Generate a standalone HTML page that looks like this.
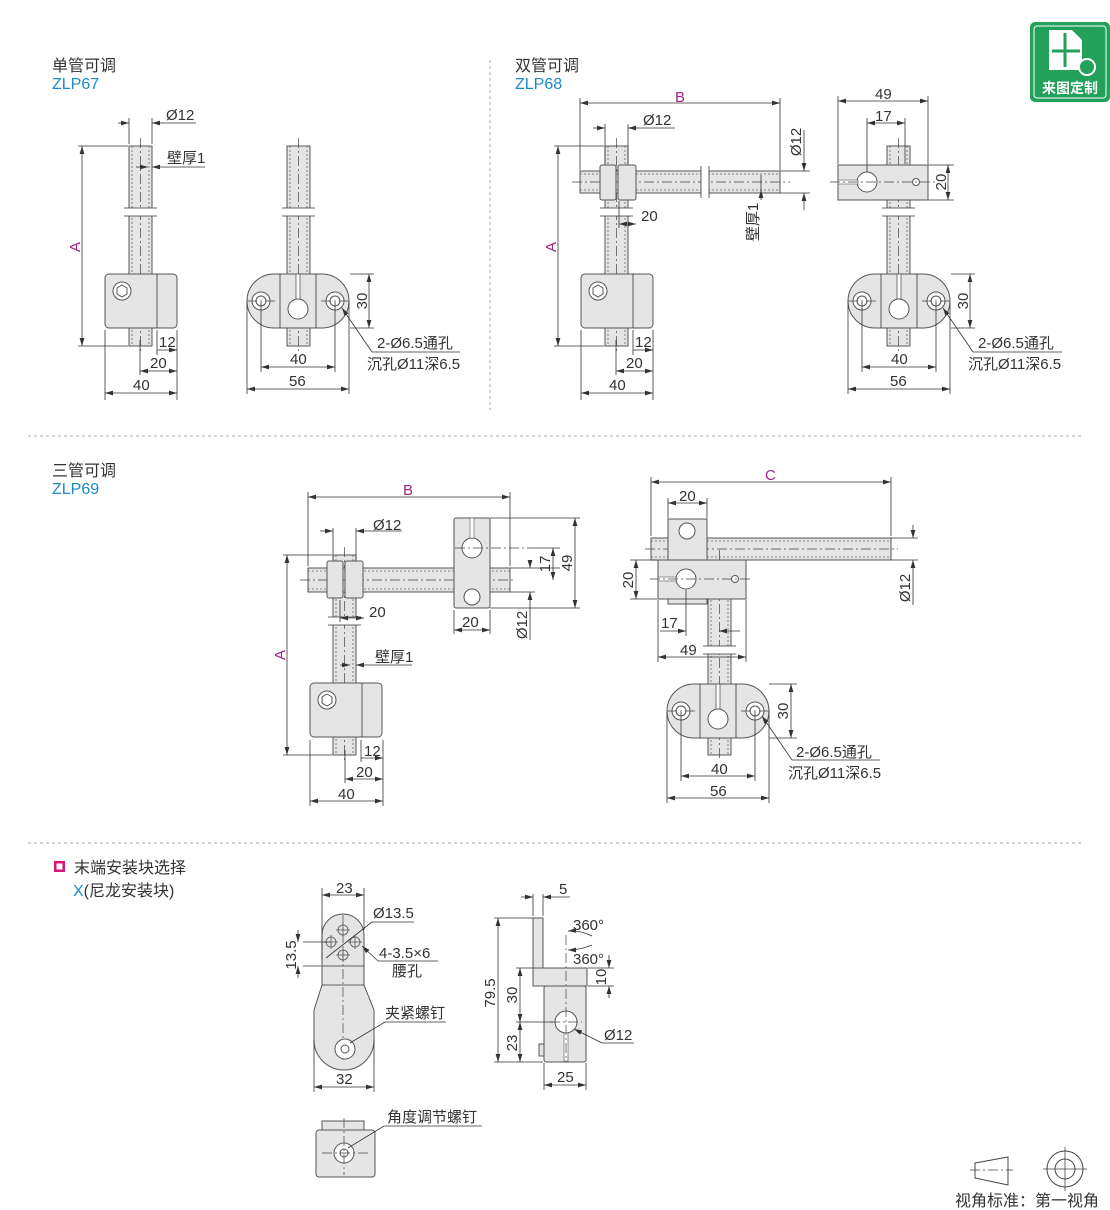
<!DOCTYPE html>
<html><head><meta charset="utf-8"><style>
html,body{margin:0;padding:0;background:#fff}
svg{display:block}
text{font-family:"Liberation Sans","Noto Sans CJK SC",sans-serif;font-size:15px;fill:#333}
.hd{font-size:16px}
.p{fill:#e5e5e5;stroke:#555;stroke-width:1}
.w{fill:#fff;stroke:#555;stroke-width:1}
.d{stroke:#333;stroke-width:.8;fill:none}
.a{stroke:#333;stroke-width:.8;fill:none;marker-start:url(#m);marker-end:url(#m)}
.c{stroke:#444;stroke-width:.7;stroke-dasharray:10 3 2 3;fill:none}
.h{stroke:#666;stroke-width:.8;stroke-dasharray:2 2;fill:none}
.s{stroke:#aaa;stroke-width:1;stroke-dasharray:3 3;fill:none}
.pk{fill:#a3237f}
.bl{fill:#1b8ac8}
</style></head><body>
<svg width="1110" height="1210" viewBox="0 0 1110 1210" xmlns="http://www.w3.org/2000/svg">
<defs>
<marker id="m" viewBox="0 0 10 6" refX="10" refY="3" markerWidth="8" markerHeight="5" orient="auto-start-reverse" markerUnits="userSpaceOnUse"><path d="M0,0L10,3L0,6z" fill="#333"/></marker>
<g id="vtube">
<rect class="p" x="0" y="0" width="23" height="200"/>
<line class="h" x1="3" y1="0" x2="3" y2="200"/><line class="h" x1="20" y1="0" x2="20" y2="200"/>
<line class="c" x1="11.5" y1="-8" x2="11.5" y2="208"/>
<rect x="-2" y="62" width="27" height="8" fill="#fff"/>
<line class="d" x1="-5" y1="62" x2="28" y2="62"/><line class="d" x1="-5" y1="70" x2="28" y2="70"/>
</g>
<g id="sideblk">
<rect class="p" x="0" y="0" width="72" height="54" rx="4"/>
<line class="d" x1="52" y1="0" x2="52" y2="54"/>
<circle class="w" cx="17" cy="17" r="9"/><polygon points="17,11 22,14 22,20 17,23 12,20 12,14" fill="none" stroke="#555"/>
</g>
<g id="oval">
<path class="p" d="M27,0H75A27,27 0 0 1 75,54H27A27,27 0 0 1 27,0z"/>
<line class="d" x1="33" y1="0" x2="33" y2="54"/><line class="d" x1="69" y1="0" x2="69" y2="54"/>
<circle class="w" cx="14" cy="27" r="9"/><circle class="w" cx="14" cy="27" r="5"/>
<circle class="w" cx="88" cy="27" r="9"/><circle class="w" cx="88" cy="27" r="5"/>
<line class="c" x1="0" y1="27" x2="28" y2="27"/><line class="c" x1="74" y1="27" x2="102" y2="27"/>
<circle class="w" cx="51" cy="35" r="10"/>
<rect x="49" y="0" width="4" height="25" fill="#fff" stroke="#555" stroke-width=".8"/>
</g>
</defs>

<!-- logo -->
<rect x="1030" y="22" width="80" height="80" rx="5" fill="#23a05a"/>
<rect x="1034" y="26" width="72" height="72" rx="3" fill="none" stroke="#fff" stroke-width="1"/>
<path d="M1049,30H1072L1082,40V70H1049z" fill="#fff"/>
<path d="M1065,33V67M1052,51H1080" stroke="#23a05a" stroke-width="3"/>
<circle cx="1087" cy="67" r="8" fill="#23a05a" stroke="#fff" stroke-width="2"/>
<text x="1070" y="93" text-anchor="middle" style="font-size:14px;font-weight:bold;fill:#fff">来图定制</text>

<!-- section headers -->
<text x="52" y="71" class="hd">单管可调</text><text x="52" y="89" class="bl hd">ZLP67</text>
<text x="515" y="71" class="hd">双管可调</text><text x="515" y="89" class="bl hd">ZLP68</text>
<text x="52" y="476" class="hd">三管可调</text><text x="52" y="494" class="bl hd">ZLP69</text>
<rect x="54" y="861" width="11" height="11" fill="#d6167a"/><rect x="56.5" y="863.5" width="6" height="6" fill="#fff"/>
<text x="74" y="873" class="hd">末端安装块选择</text>
<text x="73" y="896" class="hd"><tspan class="bl">X</tspan>(尼龙安装块)</text>

<line class="s" x1="490" y1="60" x2="490" y2="410"/>
<line class="s" x1="28" y1="436" x2="1082" y2="436"/>
<line class="s" x1="28" y1="843" x2="1082" y2="843"/>

<!-- ZLP67 left -->
<use href="#vtube" x="129" y="146"/>
<use href="#sideblk" x="105" y="274"/>
<line class="d" x1="129" y1="118" x2="129" y2="144"/><line class="d" x1="152" y1="118" x2="152" y2="144"/>
<line class="d" x1="118" y1="123" x2="129" y2="123" marker-end="url(#m)"/><line class="d" x1="196" y1="123" x2="152" y2="123" marker-end="url(#m)"/>
<text x="166" y="120">Ø12</text>
<line class="d" x1="136" y1="167" x2="148" y2="167" marker-end="url(#m)"/><line class="d" x1="205" y1="167" x2="152" y2="167" marker-end="url(#m)"/>
<text x="167" y="163">壁厚1</text>
<line class="d" x1="78" y1="146" x2="128" y2="146"/><line class="d" x1="78" y1="346" x2="128" y2="346"/>
<line class="a" x1="82" y1="146" x2="82" y2="346"/>
<text class="pk" transform="translate(80,247) rotate(-90)" text-anchor="middle">A</text>
<line class="d" x1="157" y1="330" x2="157" y2="355"/><line class="d" x1="177" y1="330" x2="177" y2="400"/><line class="d" x1="140" y1="340" x2="140" y2="375"/><line class="d" x1="105" y1="330" x2="105" y2="400"/>
<line class="d" x1="157" y1="350" x2="177" y2="350" marker-end="url(#m)"/><text x="159" y="347">12</text>
<line class="a" x1="140" y1="371" x2="177" y2="371"/><text x="150" y="368">20</text>
<line class="a" x1="105" y1="393" x2="177" y2="393"/><text x="133" y="390">40</text>
<!-- ZLP67 right -->
<use href="#vtube" x="287" y="146"/>
<use href="#oval" x="247" y="274"/>
<line class="d" x1="350" y1="274" x2="374" y2="274"/><line class="d" x1="350" y1="328" x2="374" y2="328"/>
<line class="a" x1="369" y1="274" x2="369" y2="328"/><text transform="translate(367,301) rotate(-90)" text-anchor="middle">30</text>
<line class="d" x1="261" y1="302" x2="261" y2="372"/><line class="d" x1="335" y1="302" x2="335" y2="372"/><line class="d" x1="247" y1="302" x2="247" y2="394"/><line class="d" x1="349" y1="302" x2="349" y2="394"/>
<line class="a" x1="261" y1="367" x2="335" y2="367"/><text x="290" y="364">40</text>
<line class="a" x1="247" y1="389" x2="349" y2="389"/><text x="289" y="386">56</text>
<line class="d" x1="372" y1="352" x2="342" y2="308" marker-end="url(#m)"/><line class="d" x1="372" y1="352" x2="460" y2="352"/>
<text x="377" y="348">2-Ø6.5通孔</text><text x="367" y="369">沉孔Ø11深6.5</text>

<!-- ZLP68 left -->
<use href="#vtube" x="605" y="146"/>
<use href="#sideblk" x="581" y="274"/>
<rect class="p" x="580" y="171" width="200" height="22"/>
<line class="h" x1="580" y1="174" x2="780" y2="174"/><line class="h" x1="580" y1="190" x2="780" y2="190"/>
<line class="c" x1="572" y1="182" x2="790" y2="182"/>
<rect x="701" y="168" width="8" height="28" fill="#fff"/><line class="d" x1="701" y1="166" x2="701" y2="198"/><line class="d" x1="709" y1="166" x2="709" y2="198"/>
<rect class="p" x="600" y="165" width="16" height="35" rx="2"/><rect class="p" x="618" y="165" width="18" height="35" rx="2"/>
<line class="d" x1="580" y1="98" x2="580" y2="170"/><line class="d" x1="780" y1="98" x2="780" y2="170"/>
<line class="a" x1="580" y1="103" x2="780" y2="103"/><text x="675" y="102" class="pk">B</text>
<line class="d" x1="605" y1="124" x2="605" y2="164"/><line class="d" x1="628" y1="124" x2="628" y2="164"/>
<line class="d" x1="593" y1="128" x2="605" y2="128" marker-end="url(#m)"/><line class="d" x1="675" y1="128" x2="628" y2="128" marker-end="url(#m)"/><text x="643" y="125">Ø12</text>
<line class="d" x1="780" y1="171" x2="810" y2="171"/><line class="d" x1="780" y1="193" x2="810" y2="193"/>
<line class="d" x1="804" y1="130" x2="804" y2="171" marker-end="url(#m)"/><line class="d" x1="804" y1="210" x2="804" y2="193" marker-end="url(#m)"/>
<text transform="translate(801,142) rotate(-90)" text-anchor="middle">Ø12</text>
<line class="d" x1="761" y1="175" x2="761" y2="190"/><line class="d" x1="761" y1="200" x2="761" y2="190" marker-end="url(#m)"/>
<text transform="translate(758,222) rotate(-90)" text-anchor="middle">壁厚1</text>
<line class="d" x1="619" y1="201" x2="619" y2="228"/><line class="a" x1="619" y1="224" x2="636" y2="224"/><text x="641" y="221">20</text>
<line class="d" x1="554" y1="146" x2="604" y2="146"/><line class="d" x1="554" y1="346" x2="604" y2="346"/>
<line class="a" x1="558" y1="146" x2="558" y2="346"/>
<text class="pk" transform="translate(556,247) rotate(-90)" text-anchor="middle">A</text>
<line class="d" x1="633" y1="330" x2="633" y2="355"/><line class="d" x1="653" y1="330" x2="653" y2="400"/><line class="d" x1="616" y1="340" x2="616" y2="375"/><line class="d" x1="581" y1="330" x2="581" y2="400"/>
<line class="d" x1="633" y1="350" x2="653" y2="350" marker-end="url(#m)"/><text x="635" y="347">12</text>
<line class="a" x1="616" y1="371" x2="653" y2="371"/><text x="626" y="368">20</text>
<line class="a" x1="581" y1="393" x2="653" y2="393"/><text x="609" y="390">40</text>
<!-- ZLP68 right -->
<use href="#vtube" x="887" y="146"/>
<rect class="p" x="838" y="165" width="90" height="35"/>
<circle class="w" cx="867" cy="182" r="10"/><rect x="838" y="180" width="20" height="4" fill="#fff" stroke="#555" stroke-width=".6"/>
<circle class="w" cx="916" cy="182" r="3.5"/>
<line class="c" x1="830" y1="182" x2="935" y2="182"/>
<use href="#oval" x="848" y="274"/>
<line class="d" x1="838" y1="96" x2="838" y2="164"/><line class="d" x1="928" y1="96" x2="928" y2="164"/>
<line class="a" x1="838" y1="101" x2="928" y2="101"/><text x="875" y="99">49</text>
<line class="d" x1="867" y1="118" x2="867" y2="172"/><line class="d" x1="905" y1="118" x2="905" y2="164"/>
<line class="a" x1="867" y1="123" x2="905" y2="123"/><text x="875" y="121">17</text>
<line class="d" x1="928" y1="165" x2="954" y2="165"/><line class="d" x1="928" y1="200" x2="954" y2="200"/>
<line class="a" x1="948" y1="165" x2="948" y2="200"/><text transform="translate(946,182) rotate(-90)" text-anchor="middle">20</text>
<line class="d" x1="951" y1="274" x2="975" y2="274"/><line class="d" x1="951" y1="328" x2="975" y2="328"/>
<line class="a" x1="970" y1="274" x2="970" y2="328"/><text transform="translate(968,301) rotate(-90)" text-anchor="middle">30</text>
<line class="d" x1="862" y1="302" x2="862" y2="372"/><line class="d" x1="936" y1="302" x2="936" y2="372"/><line class="d" x1="848" y1="302" x2="848" y2="394"/><line class="d" x1="950" y1="302" x2="950" y2="394"/>
<line class="a" x1="862" y1="367" x2="936" y2="367"/><text x="891" y="364">40</text>
<line class="a" x1="848" y1="389" x2="950" y2="389"/><text x="890" y="386">56</text>
<line class="d" x1="973" y1="352" x2="943" y2="308" marker-end="url(#m)"/><line class="d" x1="973" y1="352" x2="1062" y2="352"/>
<text x="978" y="348">2-Ø6.5通孔</text><text x="968" y="369">沉孔Ø11深6.5</text>

<!-- ZLP69 left -->
<use href="#vtube" x="333" y="555"/>
<use href="#sideblk" x="310" y="683"/>
<rect class="p" x="308" y="568" width="202" height="24"/>
<line class="h" x1="308" y1="571" x2="510" y2="571"/><line class="h" x1="308" y1="589" x2="510" y2="589"/>
<line class="c" x1="300" y1="580" x2="515" y2="580"/>
<rect class="p" x="327" y="561" width="16" height="37" rx="2"/><rect class="p" x="345" y="561" width="18" height="37" rx="2"/>
<rect class="p" x="454" y="518" width="36" height="90" rx="2"/>
<circle class="w" cx="472" cy="548" r="10"/><rect x="470" y="518" width="4" height="20" fill="#fff" stroke="#555" stroke-width=".6"/>
<circle class="w" cx="472" cy="597" r="8"/>
<line class="c" x1="455" y1="548" x2="530" y2="548"/>
<line class="d" x1="308" y1="492" x2="308" y2="566"/><line class="d" x1="510" y1="492" x2="510" y2="566"/>
<line class="a" x1="308" y1="497" x2="510" y2="497"/><text x="403" y="495" class="pk">B</text>
<line class="d" x1="333" y1="528" x2="333" y2="560"/><line class="d" x1="356" y1="528" x2="356" y2="560"/>
<line class="d" x1="320" y1="531" x2="333" y2="531" marker-end="url(#m)"/><line class="d" x1="402" y1="531" x2="356" y2="531" marker-end="url(#m)"/><text x="373" y="530">Ø12</text>
<line class="d" x1="340" y1="600" x2="340" y2="622"/><line class="a" x1="340" y1="618" x2="364" y2="618"/><text x="369" y="617">20</text>
<line class="d" x1="454" y1="610" x2="454" y2="634"/><line class="d" x1="490" y1="610" x2="490" y2="634"/>
<line class="a" x1="454" y1="630" x2="490" y2="630"/><text x="462" y="627">20</text>
<line class="d" x1="490" y1="518" x2="580" y2="518"/><line class="d" x1="490" y1="608" x2="580" y2="608"/><line class="d" x1="510" y1="568" x2="560" y2="568"/><line class="d" x1="510" y1="592" x2="535" y2="592"/><line class="d" x1="530" y1="548" x2="560" y2="548"/>
<line class="a" x1="575" y1="518" x2="575" y2="608"/><text transform="translate(572,563) rotate(-90)" text-anchor="middle">49</text>
<line class="a" x1="553" y1="548" x2="553" y2="580"/><text transform="translate(550,564) rotate(-90)" text-anchor="middle">17</text>
<line class="d" x1="530" y1="560" x2="530" y2="568" marker-end="url(#m)"/><line class="d" x1="530" y1="640" x2="530" y2="592" marker-end="url(#m)"/>
<text transform="translate(527,625) rotate(-90)" text-anchor="middle">Ø12</text>
<line class="d" x1="340" y1="665" x2="350" y2="665" marker-end="url(#m)"/><line class="d" x1="412" y1="665" x2="356" y2="665" marker-end="url(#m)"/><text x="375" y="662">壁厚1</text>
<line class="d" x1="283" y1="555" x2="332" y2="555"/><line class="d" x1="283" y1="755" x2="332" y2="755"/>
<line class="a" x1="287" y1="555" x2="287" y2="755"/>
<text class="pk" transform="translate(285,655) rotate(-90)" text-anchor="middle">A</text>
<line class="d" x1="361" y1="740" x2="361" y2="762"/><line class="d" x1="383" y1="740" x2="383" y2="806"/><line class="d" x1="345" y1="750" x2="345" y2="783"/><line class="d" x1="310" y1="740" x2="310" y2="806"/>
<line class="d" x1="361" y1="758" x2="383" y2="758" marker-end="url(#m)"/><text x="364" y="756">12</text>
<line class="a" x1="345" y1="779" x2="383" y2="779"/><text x="356" y="777">20</text>
<line class="a" x1="310" y1="801" x2="383" y2="801"/><text x="338" y="799">40</text>
<!-- ZLP69 right -->
<rect class="p" x="651" y="538" width="240" height="22"/>
<line class="h" x1="651" y1="541" x2="891" y2="541"/><line class="h" x1="651" y1="557" x2="891" y2="557"/>
<line class="c" x1="645" y1="549" x2="898" y2="549"/>
<rect class="p" x="708" y="560" width="23" height="195"/>
<line class="h" x1="711" y1="560" x2="711" y2="755"/><line class="h" x1="728" y1="560" x2="728" y2="755"/>
<line class="c" x1="719.5" y1="550" x2="719.5" y2="760"/>
<rect x="706" y="646" width="27" height="8" fill="#fff"/><line class="d" x1="703" y1="646" x2="736" y2="646"/><line class="d" x1="703" y1="654" x2="736" y2="654"/>
<rect class="p" x="668" y="519" width="39" height="43"/>
<circle class="w" cx="687" cy="531" r="8"/>
<rect class="p" x="668" y="590" width="39" height="14"/>
<rect class="p" x="658" y="560" width="88" height="39"/>
<circle class="w" cx="686" cy="579" r="10"/><rect x="658" y="577" width="18" height="4" fill="#fff" stroke="#555" stroke-width=".6"/>
<circle class="w" cx="735" cy="579" r="3.5"/>
<line class="c" x1="650" y1="579" x2="752" y2="579"/>
<use href="#oval" x="667" y="684"/>
<line class="d" x1="651" y1="477" x2="651" y2="536"/><line class="d" x1="891" y1="477" x2="891" y2="536"/>
<line class="a" x1="651" y1="482" x2="891" y2="482"/><text x="765" y="480" class="pk">C</text>
<line class="d" x1="668" y1="498" x2="668" y2="518"/><line class="d" x1="707" y1="498" x2="707" y2="518"/>
<line class="a" x1="668" y1="503" x2="707" y2="503"/><text x="679" y="501">20</text>
<line class="d" x1="891" y1="538" x2="918" y2="538"/><line class="d" x1="891" y1="560" x2="918" y2="560"/>
<line class="d" x1="913" y1="525" x2="913" y2="538" marker-end="url(#m)"/><line class="d" x1="913" y1="605" x2="913" y2="560" marker-end="url(#m)"/>
<text transform="translate(910,588) rotate(-90)" text-anchor="middle">Ø12</text>
<line class="d" x1="630" y1="560" x2="657" y2="560"/><line class="d" x1="630" y1="599" x2="657" y2="599"/>
<line class="a" x1="636" y1="560" x2="636" y2="599"/><text transform="translate(633,580) rotate(-90)" text-anchor="middle">20</text>
<line class="d" x1="686" y1="590" x2="686" y2="636"/><line class="d" x1="658" y1="600" x2="658" y2="662"/><line class="d" x1="746" y1="600" x2="746" y2="662"/>
<line class="d" x1="660" y1="631" x2="686" y2="631" marker-end="url(#m)"/><line class="d" x1="740" y1="631" x2="719" y2="631" marker-end="url(#m)"/><text x="661" y="628">17</text>
<line class="a" x1="658" y1="657" x2="746" y2="657"/><text x="680" y="655">49</text>
<line class="d" x1="769" y1="684" x2="797" y2="684"/><line class="d" x1="769" y1="738" x2="797" y2="738"/>
<line class="a" x1="791" y1="684" x2="791" y2="738"/><text transform="translate(788,711) rotate(-90)" text-anchor="middle">30</text>
<line class="d" x1="681" y1="712" x2="681" y2="781"/><line class="d" x1="755" y1="712" x2="755" y2="781"/><line class="d" x1="667" y1="712" x2="667" y2="803"/><line class="d" x1="769" y1="712" x2="769" y2="803"/>
<line class="a" x1="681" y1="776" x2="755" y2="776"/><text x="711" y="774">40</text>
<line class="a" x1="667" y1="798" x2="769" y2="798"/><text x="710" y="796">56</text>
<line class="d" x1="792" y1="760" x2="762" y2="716" marker-end="url(#m)"/><line class="d" x1="792" y1="760" x2="880" y2="760"/>
<text x="796" y="757">2-Ø6.5通孔</text><text x="788" y="778">沉孔Ø11深6.5</text>

<!-- end block X front -->
<path class="p" d="M322,965V935A21,21 0 0 1 364,935V985L374,1010V1040A30,30 0 0 1 314,1040V1010L322,985z"/>
<line class="d" x1="322" y1="966" x2="364" y2="966"/><line class="d" x1="322" y1="985" x2="364" y2="985"/>
<line class="c" x1="343" y1="915" x2="343" y2="1060"/>
<g fill="none" stroke="#555" stroke-width=".8">
<circle cx="343" cy="930" r="5"/><circle cx="343" cy="955" r="5"/><circle cx="331" cy="942" r="5"/><circle cx="355" cy="942" r="5"/>
<path d="M336,930h14M343,923v14M336,955h14M343,948v14M324,942h14M331,935v14M348,942h14M355,935v14"/>
</g>
<circle class="w" cx="345" cy="1049" r="10"/><circle class="w" cx="345" cy="1049" r="4"/>
<line class="d" x1="322" y1="888" x2="322" y2="960"/><line class="d" x1="364" y1="888" x2="364" y2="930"/>
<line class="a" x1="322" y1="895" x2="364" y2="895"/><text x="336" y="893">23</text>
<line class="d" x1="303" y1="942" x2="330" y2="942"/><line class="d" x1="303" y1="966" x2="321" y2="966"/>
<line class="d" x1="298" y1="930" x2="298" y2="942" marker-end="url(#m)"/><line class="d" x1="298" y1="978" x2="298" y2="966" marker-end="url(#m)"/>
<text transform="translate(296,955) rotate(-90)" text-anchor="middle">13.5</text>
<line class="d" x1="326" y1="958" x2="372" y2="922"/><line class="d" x1="372" y1="922" x2="414" y2="922"/><text x="373" y="918">Ø13.5</text>
<line class="d" x1="378" y1="961" x2="362" y2="946" marker-end="url(#m)"/><line class="d" x1="378" y1="961" x2="438" y2="961"/>
<text x="379" y="958">4-3.5×6</text><text x="392" y="976">腰孔</text>
<line class="d" x1="350" y1="1043" x2="385" y2="1022"/><line class="d" x1="385" y1="1022" x2="446" y2="1022"/><text x="385" y="1018">夹紧螺钉</text>
<line class="d" x1="314" y1="1040" x2="314" y2="1092"/><line class="d" x1="374" y1="1040" x2="374" y2="1092"/>
<line class="a" x1="314" y1="1087" x2="374" y2="1087"/><text x="336" y="1084">32</text>
<!-- side -->
<path class="p" d="M533,918H543V968H587V986H533z"/>
<rect class="p" x="544" y="986" width="42" height="76" rx="2"/>
<rect class="p" x="539" y="1044" width="5" height="12"/>
<circle class="w" cx="566" cy="1022" r="11"/>
<rect x="564" y="1033" width="4" height="28" fill="#fff" stroke="#555" stroke-width=".6"/>
<line class="c" x1="566" y1="935" x2="566" y2="1060"/><line class="c" x1="550" y1="1022" x2="582" y2="1022"/>
<line class="d" x1="533" y1="894" x2="533" y2="916"/><line class="d" x1="543" y1="894" x2="543" y2="916"/>
<line class="d" x1="521" y1="897" x2="533" y2="897" marker-end="url(#m)"/><line class="d" x1="570" y1="897" x2="543" y2="897" marker-end="url(#m)"/><text x="559" y="894">5</text>
<path class="d" d="M592,936 Q580,930 568,931" marker-end="url(#m)"/><text x="573" y="930">360°</text>
<path class="d" d="M592,945 Q580,950 568,950" marker-end="url(#m)"/><text x="573" y="964">360°</text>
<line class="d" x1="494" y1="918" x2="533" y2="918"/><line class="d" x1="494" y1="1062" x2="543" y2="1062"/>
<line class="a" x1="498" y1="918" x2="498" y2="1062"/><text transform="translate(495,993) rotate(-90)" text-anchor="middle">79.5</text>
<line class="d" x1="516" y1="968" x2="543" y2="968"/><line class="d" x1="516" y1="1022" x2="553" y2="1022"/>
<line class="a" x1="520" y1="968" x2="520" y2="1022"/><text transform="translate(517,995) rotate(-90)" text-anchor="middle">30</text>
<line class="a" x1="520" y1="1022" x2="520" y2="1062"/><text transform="translate(517,1043) rotate(-90)" text-anchor="middle">23</text>
<line class="d" x1="588" y1="968" x2="614" y2="968"/><line class="d" x1="588" y1="986" x2="614" y2="986"/>
<line class="d" x1="609" y1="955" x2="609" y2="968" marker-end="url(#m)"/><line class="d" x1="609" y1="998" x2="609" y2="986" marker-end="url(#m)"/>
<text transform="translate(606,977) rotate(-90)" text-anchor="middle">10</text>
<line class="d" x1="602" y1="1043" x2="574" y2="1029" marker-end="url(#m)"/><line class="d" x1="602" y1="1043" x2="634" y2="1043"/><text x="604" y="1040">Ø12</text>
<line class="d" x1="544" y1="1063" x2="544" y2="1090"/><line class="d" x1="586" y1="1063" x2="586" y2="1090"/>
<line class="a" x1="544" y1="1085" x2="586" y2="1085"/><text x="557" y="1082">25</text>
<!-- bottom -->
<rect class="p" x="322" y="1121" width="42" height="12"/>
<rect class="p" x="316" y="1130" width="59" height="47" rx="3"/>
<circle class="w" cx="344" cy="1153" r="10"/><circle class="w" cx="344" cy="1153" r="4"/>
<line class="c" x1="344" y1="1118" x2="344" y2="1175"/><line class="c" x1="322" y1="1153" x2="370" y2="1153"/>
<line class="d" x1="348" y1="1148" x2="384" y2="1126"/><line class="d" x1="384" y1="1126" x2="482" y2="1126"/><text x="387" y="1122">角度调节螺钉</text>

<!-- legend -->
<path d="M975,1163L1008,1157V1185L975,1178z" fill="none" stroke="#444" stroke-width="1"/>
<line class="c" x1="970" y1="1170" x2="1013" y2="1170"/>
<circle cx="1065" cy="1169" r="18" fill="none" stroke="#444"/><circle cx="1065" cy="1169" r="10" fill="none" stroke="#444"/>
<path d="M1043,1169h44M1065,1147v44" stroke="#444" stroke-width=".8"/>
<text x="955" y="1206" class="hd">视角标准：第一视角</text>
</svg>
</body></html>
